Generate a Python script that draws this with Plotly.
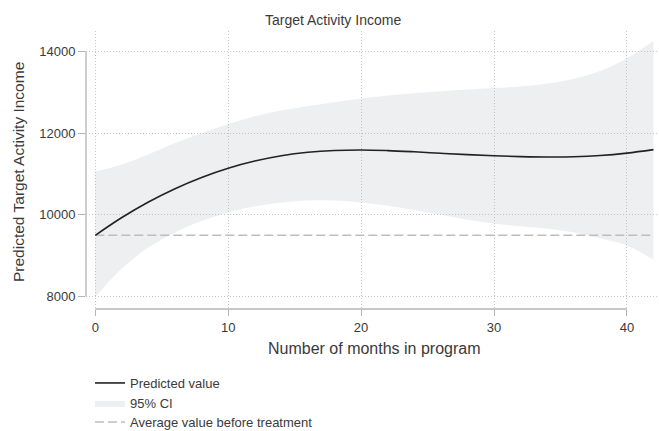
import plotly.graph_objects as go

# Months in program and fitted values with 95% confidence band
months = [0, 2, 4, 6, 8, 10, 12, 14, 16, 18, 20, 22, 24, 26, 28, 30, 32, 34, 36, 38, 40, 42]
predicted = [9500, 9935, 10315, 10640, 10915, 11140, 11315, 11445, 11530, 11575, 11588,
             11572, 11542, 11506, 11472, 11445, 11425, 11415, 11420, 11450, 11510, 11595]
ci_upper = [11060, 11230, 11480, 11760, 11995, 12220, 12410, 12550, 12660, 12755, 12845,
            12920, 12975, 13025, 13065, 13100, 13140, 13210, 13330, 13520, 13830, 14260]
ci_lower = [7990, 8690, 9200, 9570, 9850, 10060, 10210, 10305, 10352, 10350, 10300,
            10225, 10120, 10000, 9880, 9790, 9720, 9660, 9570, 9420, 9250, 8900]
baseline = 9500  # average value before treatment

x_ticks = [0, 10, 20, 30, 40]
y_ticks = [8000, 10000, 12000, 14000]

FONT = "Liberation Sans, Arial, sans-serif"
TXT = "#3a3a3a"
AXIS = "#b4b4b4"
GRID = "#c6c6c6"

fig = go.Figure()

fig.add_trace(go.Scatter(
    x=months, y=ci_lower, mode="lines", line=dict(width=0, shape="spline", smoothing=1),
    showlegend=False, hoverinfo="skip"))
fig.add_trace(go.Scatter(
    x=months, y=ci_upper, mode="lines", line=dict(width=0, shape="spline", smoothing=1),
    fill="tonexty", fillcolor="rgba(175,180,190,0.21)", name="95% CI", legend="legend2"))
fig.add_trace(go.Scatter(
    x=[months[0], months[-1]], y=[baseline, baseline], mode="lines",
    line=dict(color="#bdbdbd", width=1.5, dash="9px,4px"),
    name="Average value before treatment", legend="legend3"))
fig.add_trace(go.Scatter(
    x=months, y=predicted, mode="lines",
    line=dict(color="#222222", width=1.6, shape="spline", smoothing=1),
    name="Predicted value", legend="legend"))

# Axis lines spanning only the labelled range
fig.add_shape(type="line", xref="paper", yref="y", x0=0, x1=0, y0=y_ticks[0], y1=y_ticks[-1],
              line=dict(color=AXIS, width=1.3))
fig.add_shape(type="line", xref="x", yref="paper", x0=x_ticks[0], x1=x_ticks[-1], y0=0, y1=0,
              line=dict(color=AXIS, width=1.3))


def legend_at(ypix):
    # one legend row, vertically centred on the given pixel row
    return dict(x=(90 - 86) / 573, xanchor="left", y=(309 - ypix) / 278, yanchor="middle",
                orientation="v", bgcolor="rgba(0,0,0,0)", font=dict(size=13, color=TXT))


fig.update_layout(
    width=659, height=431,
    margin=dict(l=86, r=0, t=31, b=122, autoexpand=False),
    paper_bgcolor="white", plot_bgcolor="white",
    font=dict(family=FONT, color=TXT, size=12),
    showlegend=True,
    legend=legend_at(383),
    legend2=legend_at(403),
    legend3=legend_at(422),
    xaxis=dict(range=[-0.70, 42.415], tickvals=x_ticks, ticktext=[str(v) for v in x_ticks],
               showgrid=True, gridcolor=GRID, griddash="1px,2px", gridwidth=1,
               zeroline=False, showline=False, ticks="outside", ticklen=6, tickcolor=AXIS,
               tickfont=dict(size=13, color=TXT)),
    yaxis=dict(range=[7697, 14497], tickvals=y_ticks, ticktext=[str(v) for v in y_ticks],
               showgrid=True, gridcolor=GRID, griddash="1px,2px", gridwidth=1,
               zeroline=False, showline=False, ticks="outside", ticklen=7, tickcolor=AXIS,
               tickfont=dict(size=13, color=TXT)),
    annotations=[
        dict(text="Target Activity Income", xref="paper", yref="paper",
             x=(333 - 86) / 573, y=1, yshift=11, xanchor="center", yanchor="middle",
             showarrow=False, font=dict(size=14, color=TXT)),
        dict(text="Number of months in program", xref="paper", yref="paper",
             x=(374 - 86) / 573, y=0, yshift=-39, xanchor="center", yanchor="middle",
             showarrow=False, font=dict(size=16, color=TXT)),
        dict(text="Predicted Target Activity Income", xref="paper", yref="paper",
             x=0, xshift=-68, y=(309 - 172) / 278, xanchor="center", yanchor="middle",
             textangle=-90, showarrow=False, font=dict(size=15.5, color=TXT)),
    ],
)

fig.write_html("out.html")
